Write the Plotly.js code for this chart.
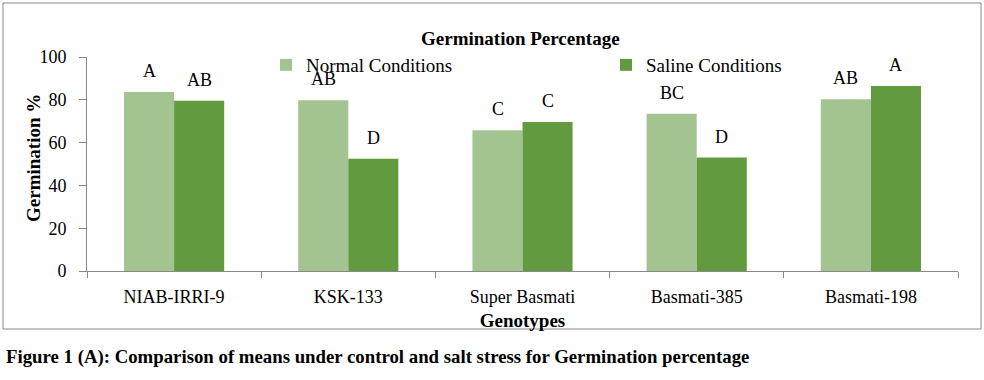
<!DOCTYPE html>
<html><head><meta charset="utf-8">
<script src="https://cdn.plot.ly/plotly-3.0.1.min.js"></script>
<style>html,body{margin:0;padding:0;background:#fff}#c{width:984px;height:380px}</style>
</head><body><div id="c"></div>
<script>
const genotypes = ["NIAB-IRRI-9", "KSK-133", "Super Basmati", "Basmati-385", "Basmati-198"];
const normal = [83.7, 79.8, 65.8, 73.5, 80.2];
const saline = [79.5, 52.4, 69.6, 53.0, 86.4];
const normalLetters = ["A", "AB", "C", "BC", "AB"];
const salineLetters = ["AB", "D", "C", "D", "A"];

const W = 984, H = 380;
const L = 87, R = 958, T = 57, B = 271;
const px = x => (x - L) / (R - L);
const py = y => (B - y) / (B - T);
const serif = "Liberation Serif";

const traces = [
  {type: "bar", name: "Normal Conditions", x: genotypes, y: normal, marker: {color: "#A3C491"}, legend: "legend"},
  {type: "bar", name: "Saline Conditions", x: genotypes, y: saline, marker: {color: "#629A3F"}, legend: "legend2"}
];

const annotations = [];
genotypes.forEach((g, i) => {
  annotations.push({x: g, y: normal[i], xref: "x", yref: "y", text: normalLetters[i], showarrow: false,
    xshift: -25, yshift: 21, font: {family: serif, size: 18, color: "#000"}});
  annotations.push({x: g, y: saline[i], xref: "x", yref: "y", text: salineLetters[i], showarrow: false,
    xshift: 25, yshift: 21, font: {family: serif, size: 18, color: "#000"}});
});
annotations.push({xref: "paper", yref: "paper", x: px(520), y: py(38), yanchor: "middle", text: "<b>Germination Percentage</b>",
  showarrow: false, font: {family: serif, size: 19, color: "#000"}});
annotations.push({xref: "paper", yref: "paper", x: px(33), y: py(158), xanchor: "center", yanchor: "middle", textangle: -90,
  text: "<b>Germination %</b>", showarrow: false, font: {family: serif, size: 19, color: "#000"}});
annotations.push({xref: "paper", yref: "paper", x: px(4), y: py(357), xanchor: "left", yanchor: "middle", text: "<b>Figure 1 (A): Comparison of means under control and salt stress for Germination percentage</b>",
  showarrow: false, font: {family: serif, size: 18.8, color: "#000"}});

const legendBase = {orientation: "h", yanchor: "middle", xanchor: "left", y: py(65),
  font: {family: serif, size: 19, color: "#000"}, bgcolor: "rgba(0,0,0,0)", borderwidth: 0};

const layout = {
  width: W, height: H,
  margin: {l: L, r: W - R, t: T, b: H - B, pad: 0},
  paper_bgcolor: "#fff", plot_bgcolor: "#fff",
  barmode: "group", bargap: 0.425, bargroupgap: 0,
  font: {family: serif, color: "#000"},
  showlegend: true,
  legend: Object.assign({}, legendBase, {x: px(266)}),
  legend2: Object.assign({}, legendBase, {x: px(606)}),
  xaxis: {showline: true, linecolor: "#888", linewidth: 1, ticks: "outside", tickson: "boundaries",
    ticklen: 6, tickcolor: "#888", showgrid: false, zeroline: false, ticklabelstandoff: 9,
    tickfont: {family: serif, size: 18, color: "#000"},
    title: {text: "<b>Genotypes</b>", font: {family: serif, size: 19, color: "#000"}, standoff: 8}},
  yaxis: {range: [0, 100], dtick: 20, showline: true, linecolor: "#888", linewidth: 1, ticks: "outside",
    ticklen: 7, tickcolor: "#888", showgrid: false, zeroline: false, ticklabelstandoff: 9,
    tickfont: {family: serif, size: 18, color: "#000"}},
  shapes: [{type: "rect", xref: "paper", yref: "paper", x0: px(3), x1: px(981), y0: py(329), y1: py(3),
    line: {color: "#888", width: 1}, fillcolor: "rgba(0,0,0,0)", layer: "below"}],
  annotations: annotations
};

Plotly.newPlot("c", traces, layout, {displayModeBar: false, staticPlot: true});
</script></body></html>
